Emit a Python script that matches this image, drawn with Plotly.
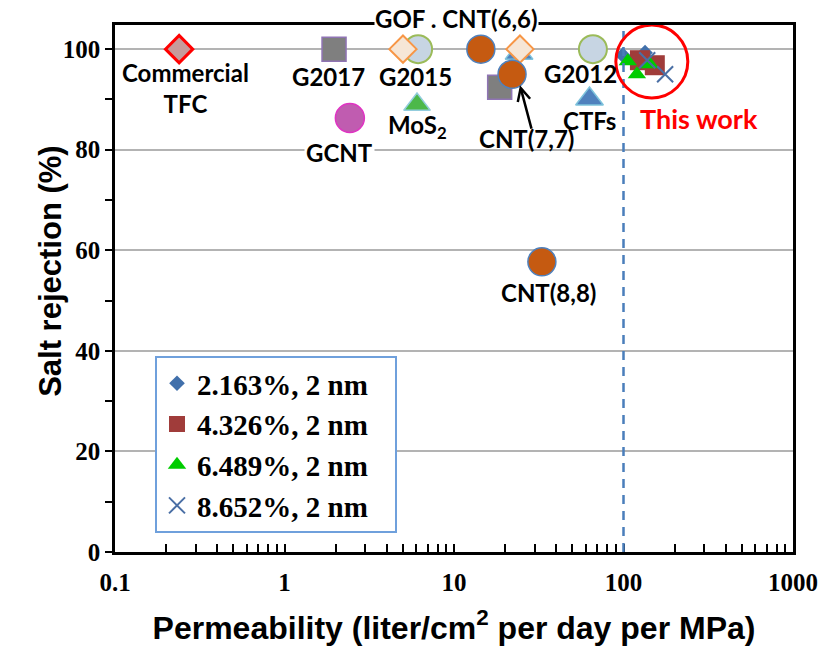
import math
import plotly.graph_objects as go

# ---------------- data ----------------
# reference membranes (permeability, salt rejection)
tfc_x = [0.239];            tfc_y = [100]
gray_sq_x = [1.96, 18.6];   gray_sq_y = [100, 92.4]
peach_dm_x = [5.0, 24.5];   peach_dm_y = [100, 100]
lb_circ_x = [6.14, 66];     lb_circ_y = [100, 100]
mos2_x = [6.05];            mos2_y = [89]
gcnt_x = [2.43];            gcnt_y = [86.3]
cnt_x = [14.4, 22.0, 33.0]; cnt_y = [100, 95.0, 57.7]
ctf_x = [24.2, 63];         ctf_y = [99.2, 90.1]

# this work
series_names = ["2.163%, 2 nm", "4.326%, 2 nm", "6.489%, 2 nm", "8.652%, 2 nm"]
s1_x = [99, 134];        s1_y = [98.8, 99.3]
s2_x = [125, 153];       s2_y = [97.8, 96.8]
s3_x = [106, 120, 143];  s3_y = [97.6, 95.0, 97.0]
s4_x = [138, 176];       s4_y = [97.8, 95.0]

# labels (text, x, y of label centre)
labels = ["Commercial<br>TFC", "G2017", "G2015", "MoS<sub>2</sub>", "GCNT",
          "G2012", "CTFs", "CNT(7,7)", "CNT(8,8)"]
label_x = [0.259, 1.81, 5.89, 6.05, 2.10, 56, 63.4, 26.6, 35.9]
label_y = [92.2, 94.6, 94.6, 84.7, 79.5, 95.2, 85.9, 82.3, 51.7]

x_ticks = [0.1, 1, 10, 100, 1000]
x_ticklabels = ["0.1", "1", "10", "100", "1000"]

# ---------------- figure ----------------
fig = go.Figure()

def ref(x, y, symbol, size, fill, line, lw):
    fig.add_trace(go.Scatter(
        x=x, y=y, mode="markers", showlegend=False, hoverinfo="skip",
        marker=dict(symbol=symbol, size=size, color=fill,
                    line=dict(color=line, width=lw))))

ref(ctf_x, ctf_y, "triangle-up", 24, "#4f81bd", "#7ec3dc", 1.5)
ref(lb_circ_x, lb_circ_y, "circle", 28, "#c7d5e3", "#9bbb59", 2)
ref(tfc_x, tfc_y, "diamond", 21, "#c79b9b", "#ff0000", 3)
ref(gray_sq_x, gray_sq_y, "square", 24, "#7f7f7f", "#8f74b4", 1.5)
ref(peach_dm_x, peach_dm_y, "diamond", 21, "#f6e6d6", "#f79646", 2)
ref(mos2_x, mos2_y, "triangle-up", 23, "#4cb84a", "#93cddd", 1.5)
ref(gcnt_x, gcnt_y, "circle", 29, "#c05cb0", "#e033c3", 1.5)
ref(cnt_x, cnt_y, "circle", 28, "#c55a11", "#4f81bd", 1.5)

series = [
    (s1_x, s1_y, "diamond", 12, "#4170ab", None),
    (s2_x, s2_y, "square", 20, "#a03c3a", None),
    (s3_x, s3_y, "triangle-up", 16, "#00cc00", None),
    (s4_x, s4_y, "x-thin", 16, "#4a6fa5", 2),
]
for (sx, sy, sym, sz, col, lw), name in zip(series, series_names):
    mk = dict(symbol=sym, size=sz, color=col)
    if lw:
        mk["line"] = dict(color=col, width=lw)
    fig.add_trace(go.Scatter(x=sx, y=sy, mode="markers",
                             name=name + "&nbsp;&nbsp;&nbsp;",
                             legendgroup=name, marker=mk))

# vertical dashed line at 100 and red circle around this work
fig.add_shape(type="line", x0=100, x1=100, y0=0, y1=1, xref="x", yref="y domain",
              line=dict(color="#4a7ebb", width=2.5, dash="9px,7px"))
fig.add_shape(type="circle", xref="x", yref="y",
              x0=90.1, x1=239.6, y0=90.3, y1=104.8,
              line=dict(color="#ff0000", width=3))

lab_font = dict(family="Lato", size=24, color="black", weight="bold")
for t, lx, ly in zip(labels, label_x, label_y):
    fig.add_annotation(x=math.log10(lx), y=ly, xref="x", yref="y", text=t,
                       showarrow=False, font=lab_font,
                       bgcolor="white" if t == "GCNT" else None)

fig.add_annotation(x=math.log10(10.3), y=1.013, xref="x", yref="paper",
                   yanchor="middle", xanchor="center",
                   text="GOF . CNT(6,6)", showarrow=False, font=lab_font,
                   bgcolor="white", borderpad=0)
fig.add_annotation(x=math.log10(279), y=86.3, xref="x", yref="y", text="This work",
                   showarrow=False,
                   font=dict(family="Lato", size=27, color="#ff0000", weight="bold"))
# arrow to CNT(7,7)
fig.add_annotation(x=math.log10(24.5), y=92.8, ax=math.log10(28.8), ay=83.9,
                   xref="x", yref="y", axref="x", ayref="y", text="",
                   showarrow=True, arrowhead=5, arrowsize=1, arrowwidth=2.5,
                   arrowcolor="black")
# y title
fig.add_annotation(x=-0.125, y=0.533, xref="paper", yref="paper",
                   text="Salt rejection (%)", textangle=-90, showarrow=False,
                   font=dict(family="Liberation Sans", size=31, color="black",
                             weight="bold"))

tick_font = dict(family="Liberation Serif", size=25, color="black", weight="bold")

fig.update_layout(
    width=835, height=656,
    margin=dict(l=115, r=42, t=25, b=104),
    plot_bgcolor="white", paper_bgcolor="white",
    showlegend=True,
    legend=dict(x=0.059, y=0.372, xanchor="left", yanchor="top",
                bordercolor="#6fa0dc", borderwidth=2, bgcolor="white",
                font=dict(family="Liberation Serif", size=29, color="black",
                          weight="bold"),
                tracegroupgap=0, itemsizing="trace"),
    xaxis=dict(type="log", range=[-1, 3], tickvals=x_ticks, ticktext=x_ticklabels,
               showgrid=False, zeroline=False, showline=True, linecolor="black",
               linewidth=2.5, mirror=True, ticks="inside", ticklen=8,
               tickwidth=1.5, tickcolor="black", tickfont=tick_font,
               ticklabelstandoff=6,
               minor=dict(dtick="D1", ticks="inside", ticklen=8, tickwidth=1.5,
                          tickcolor="black", showgrid=False),
               title=dict(text="Permeability (liter/cm<sup>2</sup> per day per MPa)",
                          font=dict(family="Liberation Sans", size=32,
                                    color="black", weight="bold"),
                          standoff=22)),
    yaxis=dict(range=[0, 104.8], tickvals=[0, 20, 40, 60, 80, 100],
               showgrid=True, gridcolor="#b3b3b3", gridwidth=1.5, zeroline=False,
               showline=True, linecolor="black", linewidth=2.5, mirror=True,
               ticks="outside", ticklen=7, tickwidth=1.5, tickcolor="black",
               tickfont=tick_font,
               minor=dict(dtick=10, ticks="outside", ticklen=7, tickwidth=1.5,
                          tickcolor="black", showgrid=False)),
)

fig.write_html("out.html")
